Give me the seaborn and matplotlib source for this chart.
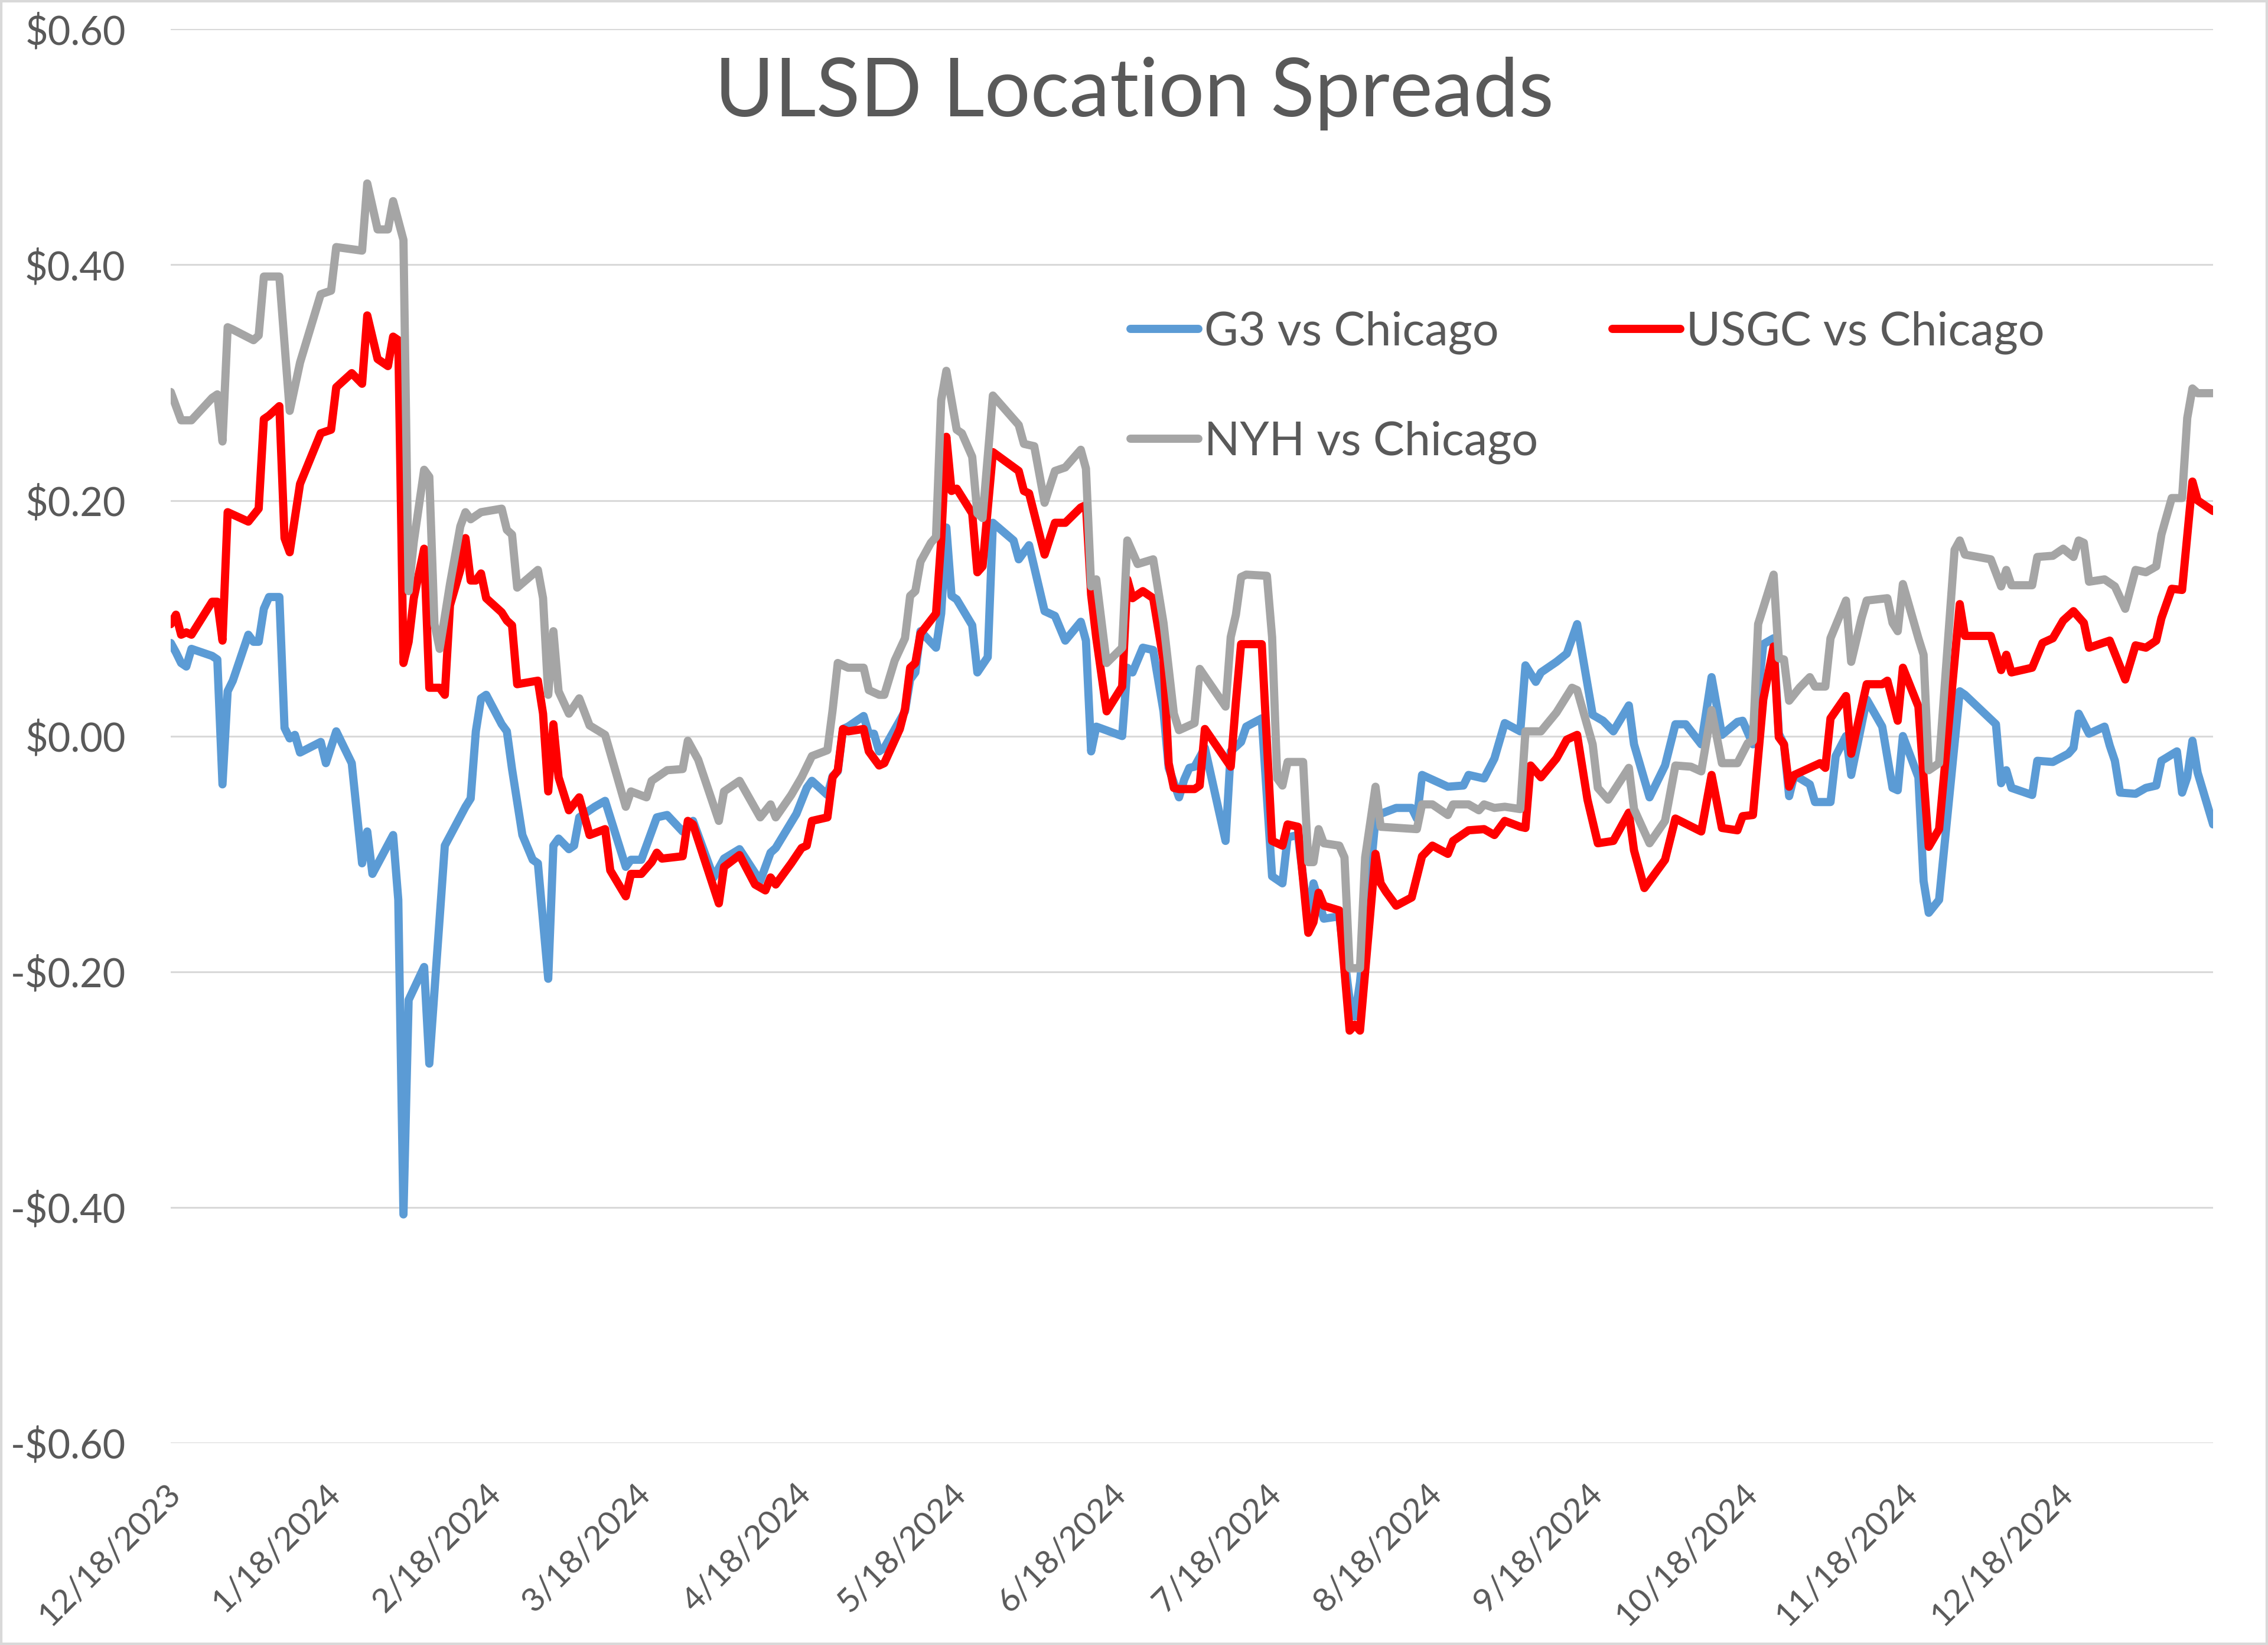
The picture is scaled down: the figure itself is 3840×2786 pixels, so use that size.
import numpy as np
import pandas as pd
import matplotlib
matplotlib.use("Agg")
import matplotlib.pyplot as plt
from matplotlib.lines import Line2D
from matplotlib.patches import Rectangle
from matplotlib.transforms import ScaledTranslation
import seaborn as sns

# ---------------- data (x = calendar days since START_DATE) ----------------
START_DATE = "2023-12-18"
END_DAY = 395

g3_points = [
    (0, 0.079), (1, 0.071), (2, 0.062), (3, 0.059), (4, 0.074), (8, 0.068), (9, 0.065), (10, -0.041),
    (11, 0.038), (12, 0.047), (15, 0.086), (16, 0.080), (17, 0.080), (18, 0.108), (19, 0.118), (21, 0.118),
    (22, 0.007), (23, -0.002), (24, 0.001), (25, -0.014), (29, -0.005), (30, -0.023), (32, 0.004), (35, -0.023),
    (37, -0.108), (38, -0.081), (39, -0.117), (43, -0.084), (44, -0.139), (45, -0.406), (46, -0.224), (49, -0.196),
    (50, -0.278), (53, -0.093), (57, -0.060), (58, -0.053), (59, 0.004), (60, 0.032), (61, 0.035), (64, 0.010),
    (65, 0.004), (66, -0.028), (68, -0.084), (70, -0.105), (71, -0.108), (73, -0.206), (74, -0.093), (75, -0.087),
    (77, -0.096), (78, -0.093), (79, -0.069), (82, -0.060), (84, -0.055), (88, -0.111), (89, -0.105), (91, -0.105),
    (94, -0.069), (96, -0.067), (99, -0.081), (101, -0.072), (105, -0.120), (107, -0.104), (110, -0.096), (114, -0.123),
    (116, -0.099), (117, -0.095), (121, -0.066), (123, -0.044), (124, -0.038), (127, -0.050), (128, -0.034), (129, -0.030),
    (130, 0.006), (131, 0.008), (134, 0.017), (135, 0.002), (136, 0.002), (137, -0.013), (138, -0.010), (142, 0.021),
    (143, 0.048), (144, 0.054), (145, 0.089), (148, 0.075), (149, 0.104), (150, 0.177), (151, 0.119), (152, 0.116),
    (155, 0.094), (156, 0.054), (158, 0.067), (159, 0.181), (163, 0.166), (164, 0.150), (166, 0.162), (169, 0.106),
    (171, 0.102), (173, 0.081), (176, 0.097), (177, 0.081), (178, -0.013), (179, 0.008), (184, 0.000), (185, 0.058),
    (186, 0.054), (188, 0.075), (190, 0.073), (192, 0.021), (193, -0.027), (195, -0.052), (196, -0.037), (197, -0.027),
    (198, -0.026), (200, -0.010), (204, -0.089), (205, -0.013), (207, -0.005), (208, 0.008), (211, 0.015), (213, -0.119),
    (215, -0.125), (216, -0.086), (218, -0.084), (220, -0.156), (221, -0.125), (223, -0.155), (226, -0.153), (228, -0.224),
    (229, -0.238), (230, -0.209), (233, -0.070), (234, -0.066), (237, -0.061), (240, -0.061), (241, -0.070), (242, -0.033),
    (247, -0.043), (250, -0.042), (251, -0.033), (254, -0.036), (256, -0.019), (258, 0.011), (261, 0.004), (262, 0.060),
    (264, 0.046), (265, 0.054), (268, 0.063), (270, 0.070), (272, 0.095), (275, 0.018), (277, 0.013), (279, 0.004),
    (282, 0.026), (283, -0.007), (286, -0.052), (289, -0.025), (291, 0.010), (293, 0.010), (296, -0.007), (298, 0.050),
    (300, 0.001), (303, 0.012), (304, 0.013), (306, -0.007), (308, 0.078), (310, 0.083), (311, 0.002), (312, -0.007),
    (313, -0.051), (314, -0.033), (317, -0.041), (318, -0.056), (321, -0.056), (322, -0.017), (324, 0.000), (325, -0.033),
    (328, 0.031), (331, 0.008), (333, -0.044), (334, -0.046), (335, 0.000), (338, -0.035), (339, -0.123), (340, -0.150),
    (342, -0.139), (346, 0.038), (347, 0.035), (353, 0.010), (354, -0.040), (355, -0.029), (356, -0.044), (360, -0.050),
    (361, -0.021), (364, -0.022), (367, -0.015), (368, -0.010), (369, 0.019), (371, 0.002), (374, 0.008), (375, -0.008),
    (376, -0.021), (377, -0.048), (380, -0.049), (382, -0.044), (384, -0.042), (385, -0.021), (388, -0.013), (389, -0.048),
    (390, -0.035), (391, -0.004), (392, -0.031), (395, -0.075),
]

usgc_points = [
    (0, 0.095), (1, 0.103), (2, 0.086), (3, 0.088), (4, 0.086), (8, 0.114), (9, 0.114), (10, 0.081),
    (11, 0.190), (15, 0.182), (17, 0.193), (18, 0.269), (19, 0.272), (21, 0.280), (22, 0.168), (23, 0.156),
    (25, 0.214), (29, 0.257), (31, 0.260), (32, 0.296), (35, 0.308), (37, 0.299), (38, 0.357), (40, 0.320),
    (42, 0.314), (43, 0.339), (44, 0.336), (45, 0.062), (46, 0.080), (47, 0.117), (49, 0.159), (50, 0.041),
    (52, 0.041), (53, 0.035), (54, 0.111), (56, 0.141), (57, 0.168), (58, 0.132), (59, 0.132), (60, 0.138),
    (61, 0.117), (64, 0.105), (65, 0.098), (66, 0.094), (67, 0.044), (71, 0.047), (72, 0.019), (73, -0.047),
    (74, 0.010), (75, -0.035), (77, -0.063), (79, -0.052), (81, -0.084), (84, -0.079), (85, -0.114), (88, -0.136),
    (89, -0.117), (91, -0.117), (93, -0.107), (94, -0.099), (95, -0.104), (99, -0.102), (100, -0.072), (101, -0.075),
    (106, -0.142), (107, -0.111), (110, -0.101), (113, -0.126), (115, -0.131), (116, -0.120), (117, -0.126), (120, -0.108),
    (122, -0.095), (123, -0.093), (124, -0.072), (127, -0.069), (128, -0.035), (129, -0.029), (130, 0.006), (131, 0.004),
    (134, 0.006), (135, -0.013), (137, -0.025), (138, -0.023), (141, 0.006), (142, 0.023), (143, 0.058), (144, 0.062),
    (145, 0.087), (148, 0.104), (149, 0.166), (150, 0.254), (151, 0.208), (152, 0.210), (155, 0.189), (156, 0.139),
    (157, 0.144), (159, 0.241), (164, 0.225), (165, 0.208), (166, 0.206), (169, 0.154), (171, 0.181), (173, 0.181),
    (176, 0.194), (177, 0.196), (178, 0.120), (179, 0.083), (181, 0.021), (184, 0.042), (185, 0.133), (186, 0.117),
    (188, 0.123), (190, 0.117), (192, 0.064), (193, -0.023), (194, -0.044), (195, -0.045), (198, -0.045), (199, -0.042),
    (200, 0.006), (205, -0.026), (206, 0.029), (207, 0.078), (211, 0.078), (213, -0.089), (215, -0.093), (216, -0.075),
    (218, -0.077), (220, -0.167), (221, -0.158), (222, -0.133), (223, -0.144), (226, -0.148), (228, -0.250), (229, -0.245),
    (230, -0.250), (233, -0.100), (234, -0.125), (235, -0.132), (237, -0.144), (240, -0.137), (242, -0.102), (244, -0.093),
    (247, -0.100), (248, -0.089), (251, -0.080), (254, -0.079), (256, -0.084), (258, -0.072), (261, -0.077), (262, -0.078),
    (263, -0.025), (265, -0.035), (268, -0.019), (270, -0.003), (272, 0.001), (274, -0.054), (276, -0.091), (279, -0.089),
    (282, -0.065), (283, -0.097), (285, -0.129), (289, -0.105), (291, -0.070), (296, -0.081), (298, -0.033), (300, -0.078),
    (303, -0.080), (304, -0.068), (306, -0.067), (308, 0.031), (310, 0.076), (311, -0.001), (312, -0.007), (313, -0.043),
    (314, -0.033), (319, -0.023), (320, -0.027), (321, 0.015), (324, 0.034), (325, -0.015), (328, 0.044), (331, 0.044),
    (332, 0.047), (334, 0.013), (335, 0.058), (338, 0.025), (340, -0.094), (342, -0.079), (346, 0.112), (347, 0.085),
    (352, 0.085), (354, 0.056), (355, 0.069), (356, 0.054), (360, 0.058), (362, 0.079), (364, 0.083), (366, 0.098),
    (368, 0.106), (370, 0.096), (371, 0.075), (375, 0.081), (378, 0.048), (380, 0.077), (382, 0.075), (384, 0.081),
    (385, 0.100), (387, 0.125), (389, 0.124), (391, 0.216), (392, 0.200), (395, 0.191),
]

nyh_points = [
    (0, 0.292), (2, 0.268), (4, 0.268), (8, 0.287), (9, 0.290), (10, 0.250), (11, 0.347), (12, 0.345),
    (16, 0.336), (17, 0.340), (18, 0.390), (21, 0.390), (23, 0.276), (25, 0.317), (29, 0.375), (31, 0.378),
    (32, 0.415), (37, 0.412), (38, 0.469), (40, 0.430), (42, 0.430), (43, 0.454), (45, 0.421), (46, 0.123),
    (47, 0.165), (49, 0.226), (50, 0.220), (51, 0.095), (52, 0.074), (54, 0.129), (56, 0.178), (57, 0.190),
    (58, 0.184), (60, 0.190), (64, 0.193), (65, 0.175), (66, 0.171), (67, 0.126), (71, 0.141), (72, 0.117),
    (73, 0.035), (74, 0.089), (75, 0.038), (77, 0.019), (79, 0.032), (81, 0.009), (84, 0.001), (88, -0.060),
    (89, -0.047), (92, -0.052), (93, -0.038), (96, -0.029), (99, -0.028), (100, -0.004), (102, -0.020), (106, -0.072),
    (107, -0.047), (110, -0.038), (114, -0.069), (116, -0.058), (117, -0.069), (120, -0.050), (122, -0.035), (124, -0.017),
    (127, -0.012), (128, 0.022), (129, 0.062), (131, 0.058), (134, 0.058), (135, 0.039), (137, 0.035), (138, 0.035),
    (140, 0.064), (142, 0.083), (143, 0.119), (144, 0.123), (145, 0.148), (147, 0.164), (148, 0.169), (149, 0.285),
    (150, 0.310), (152, 0.260), (153, 0.257), (155, 0.237), (156, 0.189), (157, 0.185), (159, 0.289), (164, 0.264),
    (165, 0.248), (167, 0.246), (169, 0.198), (171, 0.225), (173, 0.228), (176, 0.243), (177, 0.227), (178, 0.127),
    (179, 0.133), (181, 0.062), (184, 0.075), (185, 0.166), (187, 0.146), (190, 0.150), (192, 0.096), (194, 0.019),
    (195, 0.005), (198, 0.011), (199, 0.057), (204, 0.025), (205, 0.084), (206, 0.103), (207, 0.135), (208, 0.137),
    (212, 0.136), (213, 0.084), (214, -0.036), (215, -0.042), (216, -0.022), (219, -0.022), (220, -0.107), (221, -0.107),
    (222, -0.079), (223, -0.091), (226, -0.093), (227, -0.103), (228, -0.197), (230, -0.197), (231, -0.103), (233, -0.043),
    (234, -0.077), (241, -0.079), (242, -0.058), (244, -0.058), (247, -0.067), (248, -0.058), (251, -0.058), (253, -0.063),
    (254, -0.058), (256, -0.061), (258, -0.060), (261, -0.062), (262, 0.004), (265, 0.004), (268, 0.020), (271, 0.041),
    (272, 0.039), (275, -0.007), (276, -0.044), (278, -0.054), (282, -0.027), (283, -0.062), (286, -0.091), (289, -0.072),
    (291, -0.025), (294, -0.026), (296, -0.030), (298, 0.022), (300, -0.023), (303, -0.023), (305, -0.006), (306, -0.004),
    (307, 0.095), (310, 0.137), (311, 0.066), (312, 0.065), (313, 0.030), (315, 0.041), (317, 0.050), (318, 0.042),
    (320, 0.042), (321, 0.083), (324, 0.115), (325, 0.063), (327, 0.100), (328, 0.115), (332, 0.117), (333, 0.096),
    (334, 0.089), (335, 0.129), (338, 0.083), (339, 0.069), (340, -0.029), (342, -0.023), (345, 0.158), (346, 0.166),
    (347, 0.154), (352, 0.150), (354, 0.127), (355, 0.141), (356, 0.128), (360, 0.128), (361, 0.152), (364, 0.153),
    (366, 0.159), (368, 0.152), (369, 0.166), (370, 0.164), (371, 0.131), (374, 0.133), (376, 0.127), (378, 0.108),
    (380, 0.141), (382, 0.139), (384, 0.144), (385, 0.171), (387, 0.202), (389, 0.202), (390, 0.270), (391, 0.295),
    (392, 0.291), (395, 0.291),
]

series_names = ["G3 vs Chicago", "USGC vs Chicago", "NYH vs Chicago"]
series_colors = ["#5B9BD5", "#FF0000", "#A5A5A5"]

x_tick_labels = ["12/18/2023", "1/18/2024", "2/18/2024", "3/18/2024", "4/18/2024", "5/18/2024",
                 "6/18/2024", "7/18/2024", "8/18/2024", "9/18/2024", "10/18/2024", "11/18/2024",
                 "12/18/2024"]
y_ticks = [0.6, 0.4, 0.2, 0.0, -0.2, -0.4, -0.6]
y_tick_labels = ["$0.60", "$0.40", "$0.20", "$0.00", "-$0.20", "-$0.40", "-$0.60"]
title_text = "ULSD Location Spreads"

# ---------------- build long-form table ----------------
start = pd.Timestamp(START_DATE)
frames = []
for name, pts in zip(series_names, [g3_points, usgc_points, nyh_points]):
    days, vals = zip(*pts)
    frames.append(pd.DataFrame({
        "date": start + pd.to_timedelta(list(days), unit="D"),
        "value": list(vals),
        "series": name,
    }))
df = pd.concat(frames, ignore_index=True)

# ---------------- plot ----------------
sns.set_theme(style="white")
plt.rcParams["font.family"] = ["Lato", "DejaVu Sans"]
TEXT = "#595959"

fig = plt.figure(figsize=(38.4, 27.86), dpi=100)
ax = fig.add_axes([0.0753, 0.1228, 0.9005, 0.8595])

sns.lineplot(data=df, x="date", y="value", hue="series", hue_order=series_names,
             palette=dict(zip(series_names, series_colors)), estimator=None, sort=True,
             linewidth=10, legend=False, ax=ax)
for ln in ax.get_lines():
    ln.set_solid_joinstyle("round")
    ln.set_solid_capstyle("round")

ax.set_ylim(-0.6, 0.6)
ax.set_xlim(start, start + pd.Timedelta(days=END_DAY))
ax.set_yticks(y_ticks)
ax.set_yticklabels(y_tick_labels)
ax.set_xticks(pd.to_datetime(x_tick_labels, format="%m/%d/%Y"))
ax.set_xticklabels(x_tick_labels, rotation=45, ha="right", va="center", rotation_mode="anchor")
ax.grid(axis="y", color="#D9D9D9", linewidth=2.2)
ax.grid(axis="x", visible=False)
ax.set_axisbelow(True)
for s in ax.spines.values():
    s.set_visible(False)
ax.tick_params(axis="y", length=0, labelsize=48, labelcolor=TEXT, pad=55)
ax.tick_params(axis="x", length=0, labelsize=41, labelcolor=TEXT, pad=56)
shift = ScaledTranslation(0.08, 0, fig.dpi_scale_trans)
for lab in ax.get_xticklabels():
    lab.set_transform(lab.get_transform() + shift)
ax.set_xlabel("")
ax.set_ylabel("")

# legend (Excel row-major order: G3, USGC / NYH)
handles = [Line2D([0], [0], color=series_colors[i], lw=10, solid_capstyle="round") for i in (0, 2, 1)]
labels = [series_names[i] for i in (0, 2, 1)]
ax.legend(handles, labels, ncol=2, loc="upper left", bbox_to_anchor=(0.4985, 0.811),
          bbox_transform=fig.transFigure, frameon=False, fontsize=57, labelcolor=TEXT,
          handlelength=1.45, handletextpad=0.12, columnspacing=1.6, labelspacing=1.42,
          borderpad=0, borderaxespad=0)

fig.text(0.5, 1 - 197 / 2786, title_text, ha="center", va="baseline", fontsize=99, color=TEXT)

fig.patches.append(Rectangle((0, 0), 1, 1, transform=fig.transFigure, fill=False,
                             edgecolor="#D9D9D9", linewidth=6))

fig.savefig("out.png", dpi=100, facecolor="white")
